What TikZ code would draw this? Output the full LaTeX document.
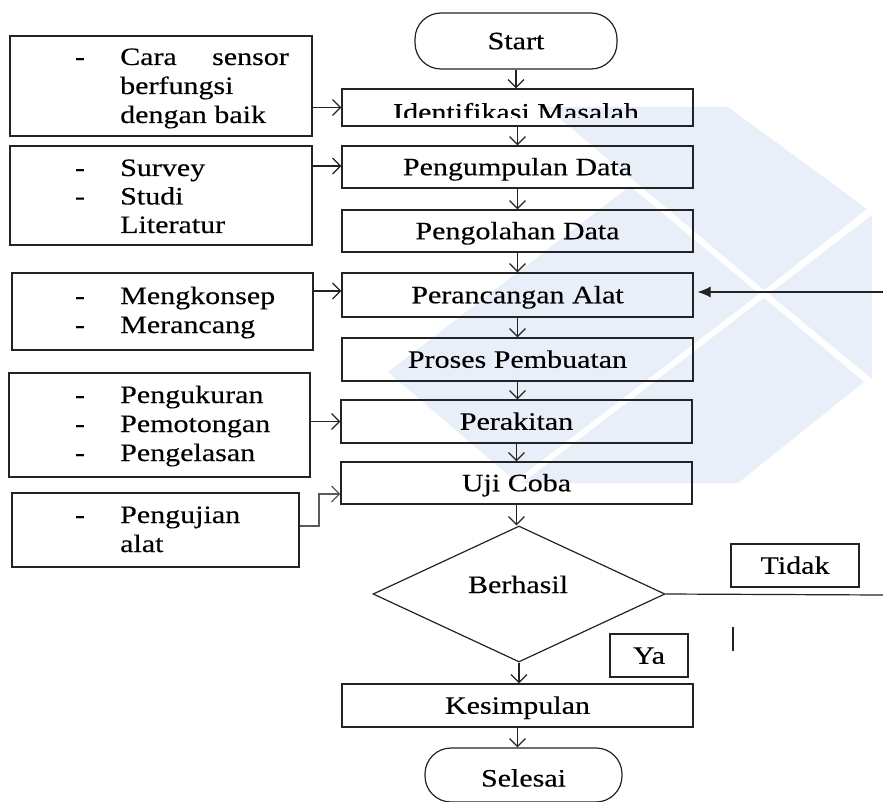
\documentclass[tikz,border=0pt]{standalone}
\usepackage{fontspec}
\setmainfont{Liberation Serif}[FakeStretch=1.2,FakeBold=0.3]
\usetikzlibrary{arrows.meta,shapes.geometric}
\definecolor{wm}{RGB}{233,239,249}
\definecolor{ln}{RGB}{35,35,35}
\begin{document}
\begin{tikzpicture}[x=1pt,y=-1pt,
  every node/.style={font=\fontsize{25}{30}\selectfont, text=black},
  box/.style={draw=ln, line width=1.2pt, rectangle, inner sep=0pt, text height=16.5pt, text depth=0pt},
  term/.style={box, rounded corners=26pt},
  arr/.style={draw=ln, line width=1.2pt, -{Straight Barb[length=8pt,width=16pt]}},
  lbl/.style={anchor=base west, inner sep=0pt},
  dsh/.style={anchor=base, inner sep=0pt}
]
\fill[white] (0,0) rectangle (883,802);
\useasboundingbox (0,0) rectangle (883,802);

% watermark
\fill[wm] (546,107) -- (728,107) -- (867,209) -- (764,290) -- cycle;
\fill[wm] (769,294) -- (872,215) -- (872,379) -- cycle;
\fill[wm] (764,298) -- (864,382) -- (738,483) -- (522,483) -- cycle;
\fill[wm] (759,294) -- (630,186) -- (388,372) -- (515,481) -- cycle;

% main column
\node[term, minimum width=202pt, minimum height=56pt] (start) at (516,41) {Start};
\node[box, minimum width=351pt, minimum height=37pt] (ident) at (517.5,107.5) {};
\begin{scope}
  \clip (343,90) rectangle (692,118);
  \node[anchor=base, inner sep=0pt] (identtxt) at (516,120.5) {Identifikasi Masalah};
\end{scope}
\node[box, minimum width=351pt, minimum height=42pt] (kump) at (517.5,167) {Pengumpulan Data};
\node[box, minimum width=351pt, minimum height=42pt] (olah) at (517.5,231) {Pengolahan Data};
\node[box, minimum width=351pt, minimum height=44pt] (ranc) at (517.5,295) {Perancangan Alat};
\node[box, minimum width=351pt, minimum height=43pt] (proses) at (517.5,359.5) {Proses Pembuatan};
\node[box, minimum width=351pt, minimum height=43pt] (rakit) at (516.5,421.5) {Perakitan};
\node[box, minimum width=351pt, minimum height=42pt] (uji) at (516.5,483) {Uji Coba};
\node[draw=ln, line width=1.2pt, diamond, minimum width=292pt, minimum height=136pt, inner sep=0pt] (dec) at (519,594) {};
\node[anchor=base, inner sep=0pt] (dectxt) at (518,593) {Berhasil};
\node[box, minimum width=351pt, minimum height=43pt] (kesim) at (517.5,705.5) {Kesimpulan};
\node[term, minimum width=197pt, minimum height=54pt, text height=23pt] (selesai) at (523.5,775) {Selesai};
\node[box, minimum width=128pt, minimum height=43pt] (tidak) at (795,565.5) {Tidak};
\node[box, minimum width=78pt, minimum height=43pt] (ya) at (649,655.5) {Ya};

% left boxes
\node[box, minimum width=302pt, minimum height=100pt] (L1) at (161,86) {};
\node[dsh] (d1) at (80,65) {-};
\node[lbl] (t1a) at (120,65) {Cara};
\node[anchor=base east, inner sep=0pt] (t1b) at (289,65) {sensor};
\node[lbl] (t1c) at (120,94) {berfungsi};
\node[lbl] (t1d) at (120,123) {dengan baik};

\node[box, minimum width=302pt, minimum height=99pt] (L2) at (161,195.5) {};
\node[dsh] (d2a) at (80,176) {-};
\node[dsh] (d2b) at (80,204.5) {-};
\node[lbl] (t2a) at (120,176) {Survey};
\node[lbl] (t2b) at (120,204.5) {Studi};
\node[lbl] (t2c) at (120,233) {Literatur};

\node[box, minimum width=301pt, minimum height=77pt] (L3) at (162.5,311.5) {};
\node[dsh] (d3a) at (80,304) {-};
\node[dsh] (d3b) at (80,333) {-};
\node[lbl] (t3a) at (120,304) {Mengkonsep};
\node[lbl] (t3b) at (120,333) {Merancang};

\node[box, minimum width=301pt, minimum height=104pt] (L4) at (159.5,425) {};
\node[dsh] (d4a) at (80,403) {-};
\node[dsh] (d4b) at (80,432) {-};
\node[dsh] (d4c) at (80,461) {-};
\node[lbl] (t4a) at (120,403) {Pengukuran};
\node[lbl] (t4b) at (120,432) {Pemotongan};
\node[lbl] (t4c) at (120,461) {Pengelasan};

\node[box, minimum width=287pt, minimum height=74pt] (L5) at (155.5,530) {};
\node[dsh] (d5) at (80,523) {-};
\node[lbl] (t5a) at (120,523) {Pengujian};
\node[lbl] (t5b) at (120,552) {alat};

% main arrows
\draw[arr] (start.south) -- (start.south |- ident.north);
\draw[arr] (ident.south) -- (kump.north);
\draw[arr] (kump.south) -- (olah.north);
\draw[arr] (olah.south) -- (ranc.north);
\draw[arr] (ranc.south) -- (proses.north);
\draw[arr] (proses.south) -- (proses.south |- rakit.north);
\draw[arr] (rakit.south) -- (uji.north);
\draw[arr] (uji.south) -- (uji.south |- dec.north);
\draw[arr] (dec.south) -- (dec.south |- kesim.north);
\draw[arr] (kesim.south) -- (kesim.south |- selesai.north);

% left arrows
\draw[arr] (L1.east |- ident.west) -- (ident.west);
\draw[arr] (L2.east |- 0,166) -- (kump.west |- 0,166);
\draw[arr] (L3.east |- 0,291) -- (ranc.west |- 0,291);
\draw[arr] (L4.east |- rakit.west) -- (rakit.west);
\draw[arr, draw=ln!75] (L5.east |- 0,526) -| (319,494) -- (uji.west |- 0,494);

% loop back (Tidak)
\coordinate (rtop) at (883,292);
\coordinate (rbot) at (883,595);
\draw[draw=ln, line width=1.2pt, -{Latex[length=13pt,width=11pt]}, shorten >=4pt] (rtop) -- (ranc.east |- rtop);
\draw[draw=ln, line width=1.2pt] (dec.east) -- (rbot);
\coordinate (vt) at (733,627);
\coordinate (vb) at (733,651);
\draw[draw=ln, line width=1.2pt] (vt) -- (vb);
\end{tikzpicture}
\end{document}
